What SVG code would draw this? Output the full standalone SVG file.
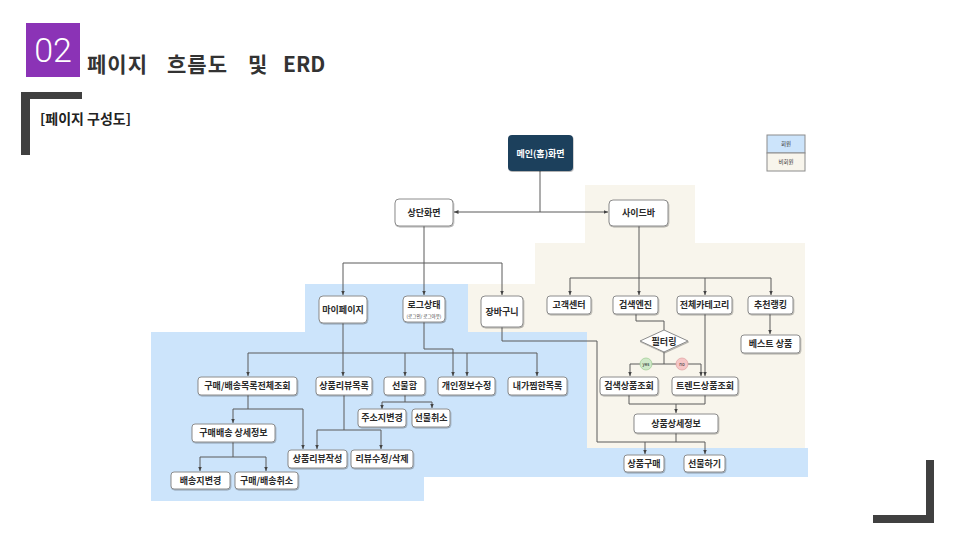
<svg xmlns="http://www.w3.org/2000/svg" width="960" height="540" viewBox="0 0 960 540">
<defs>
<marker id="ah" markerUnits="userSpaceOnUse" markerWidth="5" markerHeight="5" refX="4.5" refY="2.5" orient="auto">
<path d="M0,0.5 L4.5,2.5 L0,4.5 z" fill="#444"/>
</marker>
<filter id="sh" x="-10%" y="-20%" width="120%" height="160%">
<feDropShadow dx="0.6" dy="1" stdDeviation="0.6" flood-color="#000" flood-opacity="0.3"/>
</filter>
</defs>
<style>
.n rect{fill:#fff;stroke:#8c8c8c;stroke-width:1;filter:url(#sh)}
.n text,.t{font-family:"Noto Sans CJK KR","Noto Sans",sans-serif;font-weight:bold;font-size:9px;fill:#2b2b2b;text-anchor:middle}
.c path{fill:none;stroke:#5a5a5a;stroke-width:1}
.c .a{marker-end:url(#ah)}
.bar{fill:#404040}
.ttl{font-family:"Noto Sans CJK KR","Noto Sans",sans-serif;font-weight:bold;font-size:21px;fill:#333}
</style>
<rect width="960" height="540" fill="#fff"/>

<!-- header -->
<rect x="26" y="23" width="54" height="54" fill="#8B33B6"/>
<text x="53" y="62" font-family="Roboto,'Liberation Sans',sans-serif" font-weight="300" font-size="34" fill="#fff" text-anchor="middle">02</text>
<text class="ttl" y="72"><tspan x="87" letter-spacing="1">페이지</tspan><tspan x="167" letter-spacing="1">흐름도</tspan><tspan x="248">및</tspan><tspan x="283">ERD</tspan></text>
<rect class="bar" x="21" y="92" width="61" height="7"/>
<rect class="bar" x="21" y="92" width="9" height="63"/>
<text x="40" y="124" font-family="'Noto Sans CJK KR','Noto Sans',sans-serif" font-weight="bold" font-size="14" fill="#222">[페이지 구성도]</text>
<rect class="bar" x="926" y="460" width="8" height="63"/>
<rect class="bar" x="873" y="515" width="61" height="8"/>

<!-- regions -->
<path d="M585,185 H695 V243 H805 V448 H587 V332 H468 V284 H535 V243 H585 Z" fill="#F8F5EC"/>
<path d="M305,284 H468 V332 H587 V448 H808 V477 H424 V501 H151 V332 H305 Z" fill="#CCE4FB"/>

<!-- legend -->
<g id="legend">
<rect x="767" y="135" width="38" height="18" fill="#CCE4FB" stroke="#8c8c8c"/>
<rect x="767" y="153" width="38" height="18" fill="#F8F5EC" stroke="#8c8c8c"/>
<text x="786" y="146" font-family="'Noto Sans CJK KR',sans-serif" font-size="5.5" fill="#333" text-anchor="middle">회원</text>
<text x="786" y="164" font-family="'Noto Sans CJK KR',sans-serif" font-size="5.5" fill="#333" text-anchor="middle">비회원</text>
</g>

<!-- connectors -->
<g class="c" id="connectors">
<path d="M540,171 V212"/>
<path class="a" d="M540,212 H454"/>
<path class="a" d="M540,212 H608"/>
<path class="a" d="M424,226 V263 H343 V295"/>
<path class="a" d="M424,263 V295"/>
<path class="a" d="M424,263 H502 V295"/>
<path class="a" d="M343,323 V353 H248 V376"/>
<path class="a" d="M343,353 V376"/>
<path class="a" d="M343,353 H405 V376"/>
<path class="a" d="M405,353 H467 V376"/>
<path class="a" d="M467,353 H537 V376"/>
<path class="a" d="M424,322 V349 H453 V376"/>
<path d="M502,327 V341 H597 V442 H645"/>
<path class="a" d="M676,433 V442 H645 V454"/>
<path class="a" d="M676,442 H705 V454"/>
<path class="a" d="M248,395 V409 H233 V423"/>
<path class="a" d="M248,409 H303 V449"/>
<path class="a" d="M233,442 V457 H200 V471"/>
<path class="a" d="M233,457 H266 V471"/>
<path class="a" d="M344,395 V430 H317 V449"/>
<path class="a" d="M344,430 H381 V449"/>
<path class="a" d="M405,395 V402 H382 V409"/>
<path class="a" d="M405,402 H432 V408"/>
<path class="a" d="M639,226 V278 H570 V295"/>
<path class="a" d="M639,278 V295"/>
<path class="a" d="M639,278 H705 V295"/>
<path class="a" d="M705,278 H771 V295"/>
<path d="M636,314 V321 H664 V330"/>
<path class="a" d="M664,352 V364 H630 V376"/>
<path class="a" d="M664,364 H701 V376"/>
<path class="a" d="M705,314 V376"/>
<path class="a" d="M770,314 V334"/>
<path class="a" d="M629,395 V404 H676 V413"/>
<path d="M705,395 V404 H676"/>
</g>

<!-- nodes -->
<g id="main">
<rect x="508" y="135" width="65" height="36" rx="4" fill="#1F3F5B" filter="url(#sh)"/>
<text class="t" x="540.5" y="156.5" style="fill:#fff">메인(홈)화면</text>
</g>
<g class="n" id="top"><rect x="395" y="199" width="58" height="27" rx="4"/><text x="424" y="215.5">상단화면</text></g>
<g class="n" id="sidebar"><rect x="609" y="200" width="59" height="26" rx="4"/><text x="638.5" y="216">사이드바</text></g>

<g class="n" id="mypage"><rect x="319" y="296" width="48" height="27" rx="4"/><text x="343" y="312.5">마이페이지</text></g>
<g class="n" id="login"><rect x="403" y="296" width="42" height="26" rx="4"/><text x="424" y="307.5">로그상태</text><text x="424" y="318" style="font-size:4.5px;font-weight:normal">(로그인/ 로그아웃)</text></g>
<g class="n" id="cart"><rect x="481" y="296" width="42" height="31" rx="4"/><text x="502" y="314.5">장바구니</text></g>

<g class="n" id="cs"><rect x="547" y="296" width="44" height="18" rx="3"/><text x="569" y="308">고객센터</text></g>
<g class="n" id="search"><rect x="613" y="296" width="45" height="18" rx="3"/><text x="635.5" y="308">검색엔진</text></g>
<g class="n" id="category"><rect x="677" y="296" width="55" height="18" rx="3"/><text x="704.5" y="308">전체카테고리</text></g>
<g class="n" id="rank"><rect x="748" y="296" width="45" height="18" rx="3"/><text x="770.5" y="308">추천랭킹</text></g>

<g id="filter">
<path d="M664,330 L688,341 L664,352 L640,341 Z" fill="#fff" stroke="#8c8c8c" filter="url(#sh)"/>
<text class="t" x="664" y="344.5">필터링</text>
</g>
<g id="yes"><circle cx="646" cy="364" r="6" fill="#CFE8C8" stroke="#9CCB90" stroke-width="0.7"/><text x="646" y="365.7" font-family="'Noto Sans',sans-serif" font-size="4.5" fill="#333" text-anchor="middle">yes</text></g>
<g id="no"><circle cx="682" cy="364" r="6" fill="#F6C6C6" stroke="#E0A0A0" stroke-width="0.7"/><text x="682" y="365.7" font-family="'Noto Sans',sans-serif" font-size="4.5" fill="#333" text-anchor="middle">no</text></g>
<g class="n" id="best"><rect x="741" y="335" width="59" height="18" rx="3"/><text x="770.5" y="347">베스트 상품</text></g>

<g class="n" id="r1"><rect x="198" y="377" width="99" height="18" rx="3"/><text x="247.5" y="389">구매/배송목록전체조회</text></g>
<g class="n" id="r2"><rect x="316" y="377" width="56" height="18" rx="3"/><text x="344" y="389">상품리뷰목록</text></g>
<g class="n" id="r3"><rect x="384" y="377" width="41" height="18" rx="3"/><text x="404.5" y="389">선물함</text></g>
<g class="n" id="r4"><rect x="438" y="377" width="57" height="18" rx="3"/><text x="466.5" y="389">개인정보수정</text></g>
<g class="n" id="r5"><rect x="508" y="377" width="59" height="18" rx="3"/><text x="537.5" y="389">내가찜한목록</text></g>
<g class="n" id="r6"><rect x="600" y="377" width="58" height="18" rx="3"/><text x="629" y="389">검색상품조회</text></g>
<g class="n" id="r7"><rect x="672" y="377" width="66" height="18" rx="3"/><text x="705" y="389">트렌드상품조회</text></g>

<g class="n" id="addr"><rect x="358" y="409" width="48" height="18" rx="3"/><text x="382" y="421">주소지변경</text></g>
<g class="n" id="giftcancel"><rect x="412" y="409" width="38" height="18" rx="3"/><text x="431" y="421">선물취소</text></g>
<g class="n" id="detail"><rect x="634" y="414" width="84" height="19" rx="3"/><text x="676" y="426.5">상품상세정보</text></g>
<g class="n" id="orderdetail"><rect x="192" y="424" width="83" height="18" rx="3"/><text x="233.5" y="436">구매배송 상세정보</text></g>
<g class="n" id="reviewwrite"><rect x="288" y="450" width="59" height="18" rx="3"/><text x="317.5" y="462">상품리뷰작성</text></g>
<g class="n" id="reviewedit"><rect x="351" y="450" width="62" height="18" rx="3"/><text x="382" y="462">리뷰수정/삭제</text></g>
<g class="n" id="buy"><rect x="624" y="455" width="40" height="17" rx="3"/><text x="644" y="466.5">상품구매</text></g>
<g class="n" id="gift"><rect x="684" y="455" width="41" height="17" rx="3"/><text x="704.5" y="466.5">선물하기</text></g>
<g class="n" id="addrchange"><rect x="171" y="472" width="59" height="17" rx="3"/><text x="200.5" y="483.5">배송지변경</text></g>
<g class="n" id="ordercancel"><rect x="235" y="472" width="63" height="17" rx="3"/><text x="266.5" y="483.5">구매/배송취소</text></g>
</svg>
